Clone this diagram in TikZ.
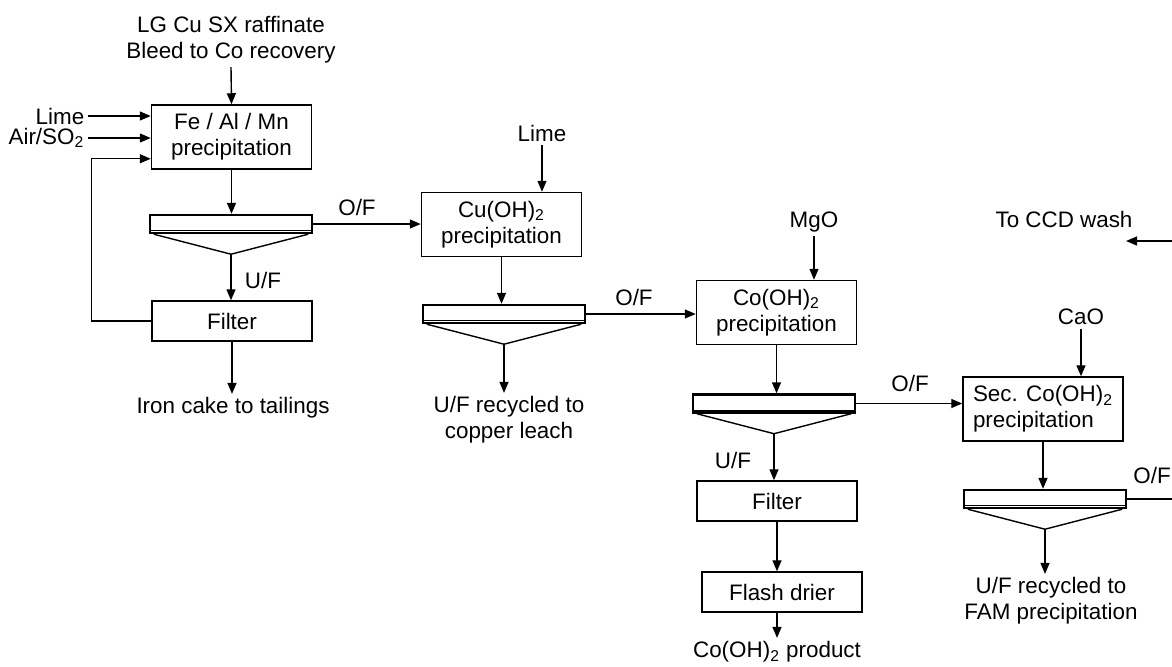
\documentclass[tikz,border=0pt]{standalone}
\usepackage{fontspec}
\setmainfont{Liberation Sans}
\usetikzlibrary{arrows.meta}

\tikzset{
  unit/.style={draw, line width=0.75pt, minimum width=80pt, minimum height=32pt, align=center, inner sep=1.5pt},
  filt/.style={draw, line width=0.75pt, minimum width=80pt, minimum height=20pt, inner sep=1pt},
  thk/.style={draw, line width=1.2pt, minimum width=81pt, minimum height=9pt, inner sep=0pt},
  rim/.style={line width=0.5pt},
  lbl/.style={inner sep=1.5pt, align=center}
}

% thickener: name, x, y
\newcommand{\thickener}[3]{%
  \path (#2,#3) node[thk] (#1) {};
  \draw[rim] ([yshift=1.8pt]#1.south west) -- ([yshift=1.8pt]#1.south east);
  \coordinate (#1-apex) at ([yshift=-10pt]#1.south);
  \draw ([xshift=2.5pt]#1.south west) -- (#1-apex) -- ([xshift=-2.5pt]#1.south east);
}

\begin{document}
\begin{tikzpicture}[x=0.5pt,y=-0.5pt,line width=0.7pt,>={Triangle[length=5.5pt,width=4.5pt]},
  font=\fontsize{11.2}{13}\selectfont]
\useasboundingbox (0,0) rectangle (1172,666);

% units
\path (231.5,137) node[unit] (femn) {Fe / Al / Mn\\precipitation};
\path (232,321) node[filt] (filter1) {Filter};
\path (501.5,224.5) node[unit] (cuoh) {Cu(OH)\textsubscript{2}\\precipitation};
\path (776.5,312.5) node[unit] (cooh) {Co(OH)\textsubscript{2}\\precipitation};
\path (777,501) node[filt] (filter2) {Filter};
\path (782,592) node[filt] (drier) {Flash drier};
\path (1043,409) node[unit,align=left] (seccooh) {Sec. Co(OH)\textsubscript{2}\\precipitation};

% thickeners
\thickener{thk1}{231}{224}
\thickener{thk2}{504}{314}
\thickener{thk3}{774}{403.5}
\thickener{thk4}{1045}{499}

% streams in and out
\path (231,40) node[lbl] (feed) {LG Cu SX raffinate\\Bleed to Co recovery};
\path (88,116) node[lbl,anchor=east] (lime1) {Lime};
\path (88,138) node[lbl,anchor=east] (air) {Air/SO\textsubscript{2}};
\path (233,408) node[lbl] (ironcake) {Iron cake to tailings};
\path (542,133) node[lbl] (lime2) {Lime};
\path (509,420) node[lbl] (leach) {U/F recycled to\\copper leach};
\path (814,222) node[lbl] (mgo) {MgO};
\path (777,652) node[lbl] (product) {Co(OH)\textsubscript{2} product};
\path (1081,317) node[lbl] (cao) {CaO};
\path (1051,601) node[lbl] (fam) {U/F recycled to\\FAM precipitation};
\path (1064,219) node[lbl] (ccd) {To CCD wash};
\coordinate (ccdin) at (1172,241);
\coordinate (ccdtip) at (1126,241);
\coordinate (of4end) at (1172,499);

% labels
\path (357,207) node[lbl] (of1) {O/F};
\path (263,280) node[lbl] (uf1) {U/F};
\path (634,297) node[lbl] (of2) {O/F};
\path (910,383) node[lbl] (of3) {O/F};
\path (733,460) node[lbl] (uf3) {U/F};
\path (1152,475) node[lbl] (of4) {O/F};

% edges
\draw[->] (feed.south) -- (femn.north);
\draw[->] (lime1.east) -- (lime1.east -| femn.west);
\draw[->] (air.east) -- (air.east -| femn.west);
\draw[->] (filter1.west) -- ++(-60,0) |- ([yshift=5.5pt]femn.south west);
\draw[->] (femn.south) -- (femn.south |- thk1.north);
\draw[->] (thk1-apex) -- (thk1-apex |- filter1.north);
\draw[->] (filter1.south) -- (filter1.south |- ironcake.north);
\draw[->] (thk1.east) -- (thk1.east -| cuoh.west);

\draw[->] (lime2.south) -- (lime2.south |- cuoh.north);
\draw[->] (cuoh.south) -- (cuoh.south |- thk2.north);
\draw[->] (thk2-apex) -- (thk2-apex |- leach.north);
\draw[->] (thk2.east) -- (thk2.east -| cooh.west);

\draw[->] (mgo.south) -- (mgo.south |- cooh.north);
\draw[->] (cooh.south) -- (cooh.south |- thk3.north);
\draw[->] (thk3-apex) -- (thk3-apex |- filter2.north);
\draw[->] (filter2.south) -- (filter2.south |- drier.north);
\draw[->] (product.north |- drier.south) -- (product.north);
\draw[->] (thk3.east) -- (thk3.east -| seccooh.west);

\draw[->] (cao.south) -- (cao.south |- seccooh.north);
\draw[->] (seccooh.south) -- (seccooh.south |- thk4.north);
\draw[->] (thk4-apex) -- (thk4-apex |- fam.north);
\draw (thk4.east) -- (thk4.east -| of4end);
\draw[->] (ccdin) -- (ccdtip);

\end{tikzpicture}
\end{document}
